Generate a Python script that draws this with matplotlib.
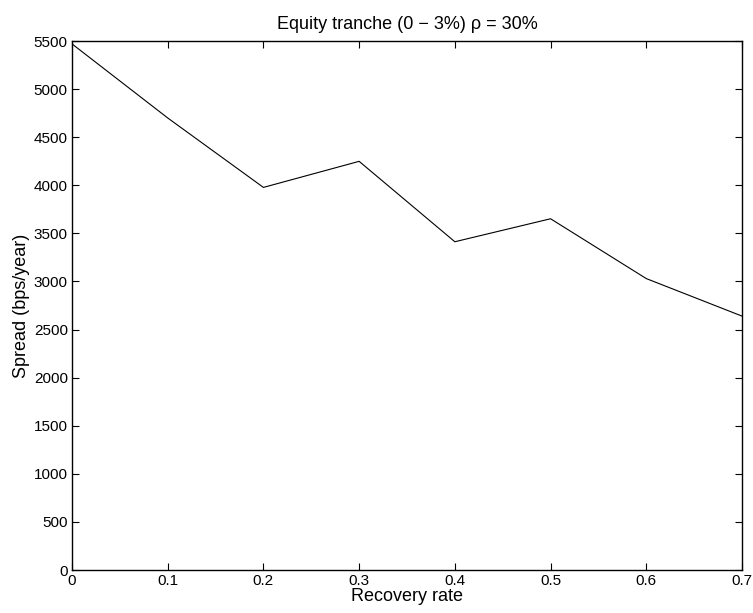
import numpy as np
import matplotlib
matplotlib.use("Agg")
import matplotlib.pyplot as plt

plt.rcParams['font.family'] = ['Liberation Sans', 'DejaVu Sans']

recovery = [0.0, 0.1, 0.2, 0.3, 0.4, 0.5, 0.6, 0.7]
spread = [5470, 4700, 3978, 4249, 3413, 3652, 3030, 2640]

fig = plt.figure(figsize=(7.53, 6.13), dpi=100)
ax = fig.add_axes([0.0956, 0.0701, 0.8898, 0.863])
ax.plot(recovery, spread, color='black', linewidth=0.8)

ax.set_xlim(0, 0.7)
ax.set_ylim(0, 5500)
ax.set_xticks(np.arange(0, 0.71, 0.1))
ax.set_xticklabels(['0', '0.1', '0.2', '0.3', '0.4', '0.5', '0.6', '0.7'])
ax.set_yticks(np.arange(0, 5501, 500))
ax.tick_params(direction='in', top=True, right=True, labelsize=11, length=5, width=0.8, pad=3)
for s in ax.spines.values():
    s.set_linewidth(1.0)

ax.set_xlabel('Recovery rate', fontsize=13, labelpad=0)
ax.set_ylabel('Spread (bps/year)', fontsize=13, labelpad=3)
ax.set_title('Equity tranche (0 \u2212 3%) \u03c1 = 30%', fontsize=13, pad=9)

fig.savefig('out.png', dpi=100)
